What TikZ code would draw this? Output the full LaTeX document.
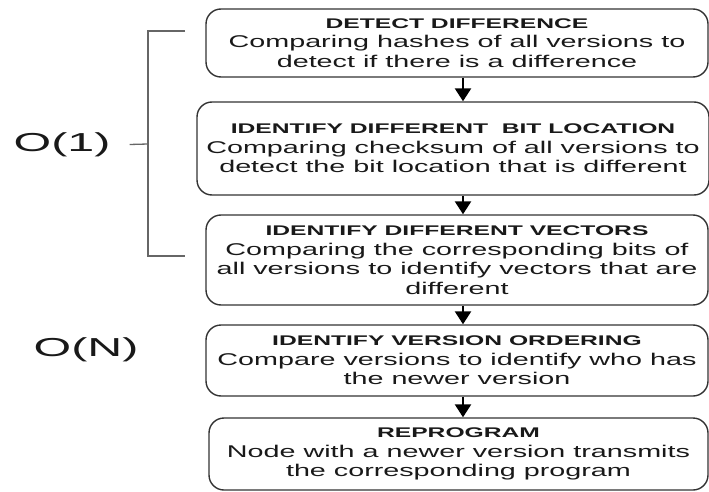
\documentclass[tikz,border=0pt]{standalone}
\usepackage{fontspec}
\setmainfont{Liberation Sans}
\newfontfamily\bodyf{Liberation Sans}[FakeStretch=1.69]
\newfontfamily\titlef{Liberation Sans}[FakeStretch=1.76]
\newfontfamily\bigf{Liberation Sans}[FakeStretch=1.86]
\usetikzlibrary{arrows.meta}
\newcommand\ttl[1]{{\titlef\bfseries\fontsize{14}{19.5}\selectfont #1}}
\begin{document}
\begin{tikzpicture}[x=1pt,y=-1pt,
  stepbox/.style={draw=black!80, line width=1.4pt, rounded corners=15pt, align=center,
    inner sep=0pt, font=\bodyf\fontsize{17}{19.5}\selectfont, text=black!90},
  arr/.style={draw=black, line width=2.5pt, -{Triangle[width=16pt,length=13pt]}},
  brk/.style={draw=black!60, line width=1.3pt},
  big/.style={font=\bigf\fontsize{26}{30}\selectfont, text=black!90, inner sep=0pt}
]
\useasboundingbox (0,0) rectangle (709,492);

\node[stepbox, minimum width=502pt, minimum height=68pt] (b1) at (457,43)
  {\ttl{DETECT DIFFERENCE}\\Comparing hashes of all versions to\\detect if there is a difference};
\node[stepbox, minimum width=512pt, minimum height=93pt] (b2) at (453,148.5)
  {\ttl{IDENTIFY DIFFERENT~ BIT LOCATION}\\Comparing checksum of all versions to\\detect the bit location that is different};
\node[stepbox, minimum width=502pt, minimum height=90pt] (b3) at (457,260)
  {\ttl{IDENTIFY DIFFERENT VECTORS}\\Comparing the corresponding bits of\\all versions to identify vectors that are\\different};
\node[stepbox, minimum width=502pt, minimum height=71pt] (b4) at (457,360.5)
  {\ttl{IDENTIFY VERSION ORDERING}\\Compare versions to identify who has\\the newer version};
\node[stepbox, minimum width=499pt, minimum height=72pt] (b5) at (458.5,454)
  {\ttl{REPROGRAM}\\Node with a newer version transmits\\the corresponding program};

\coordinate (ax) at (463,0);
\draw[arr] (b1.south -| ax) -- (b2.north -| ax);
\draw[arr] (b2.south -| ax) -- (b3.north -| ax);
\draw[arr] (b3.south -| ax) -- (b4.north -| ax);
\draw[arr] (b4.south -| ax) -- (b5.north -| ax);

\node[big] (o1) at (62,144.5) {O(1)};
\node[big] (on) at (86,350) {O(N)};

\coordinate (bt) at (185,31);
\coordinate (bb) at (185,256);
\coordinate (bm) at (148,144);
\draw[brk] (bt) -- (148,31) -- (148,256) -- (bb);
\draw[brk] ([xshift=19pt]o1.east) -- (bm);
\end{tikzpicture}
\end{document}
